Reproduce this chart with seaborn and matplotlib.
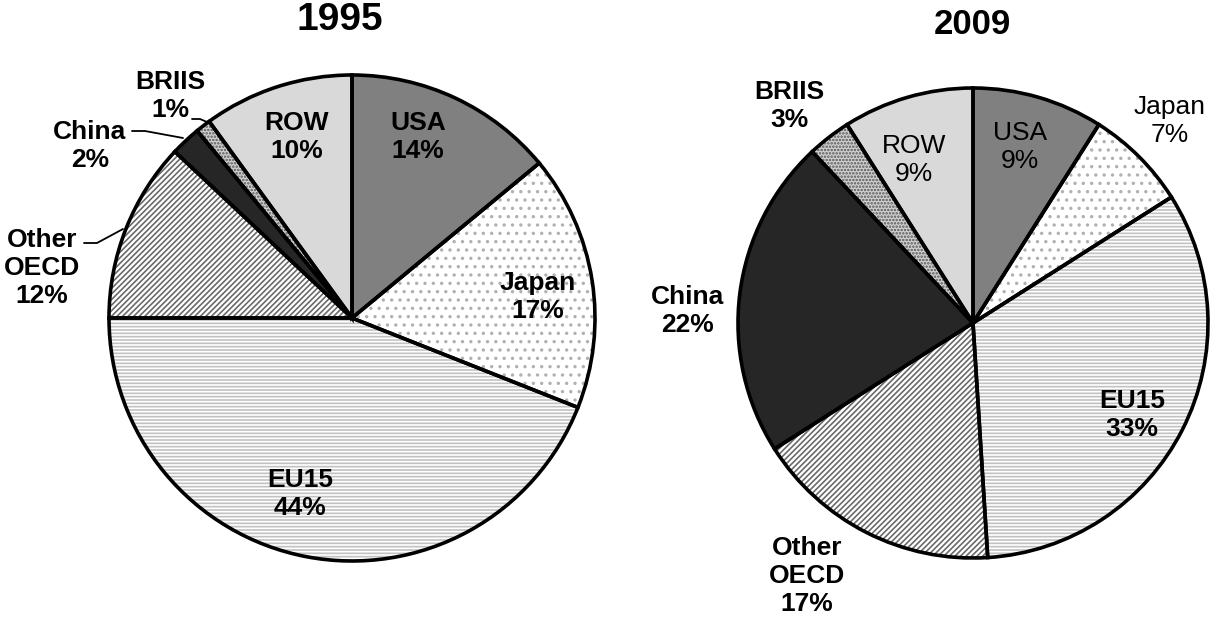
import matplotlib
matplotlib.use("Agg")
import matplotlib.pyplot as plt
import seaborn as sns

# shares of each region, clockwise from 12 o'clock
regions = ["USA", "Japan", "EU15", "Other OECD", "China", "BRIIS", "ROW"]
share_1995 = [14, 17, 44, 12, 2, 1, 10]
share_2009 = [9, 7, 33, 17, 22, 3, 9]

# fill colours, hatch colours and hatch patterns per region
face_cols = ["#808080", "#ffffff", "#c2c2c2", "#ffffff", "#262626", "#d0d0d0", "#d9d9d9"]
hatch_cols = ["#808080", "#b0b0b0", "#ffffff", "#6a6a6a", "#262626", "#555555", "#d9d9d9"]
hatches = ["", "..", "-----", "//////", "", ".....", ""]

sns.set_theme(style="white")
plt.rcParams["font.family"] = ["Liberation Sans", "DejaVu Sans"]
plt.rcParams["text.color"] = "black"
plt.rcParams["hatch.linewidth"] = 1.2

W, H = 1212, 618
fig = plt.figure(figsize=(W / 100, H / 100), dpi=100)
ax = fig.add_axes([0, 0, 1, 1])


def draw_pie(values, cx, cy, r):
    c = (cx, H - cy)
    wedges, _ = ax.pie(values, center=c, radius=r, startangle=90,
                       counterclock=False, colors=face_cols,
                       wedgeprops=dict(linewidth=0))
    for w, hc, ht in zip(wedges, hatch_cols, hatches):
        w.set_edgecolor(hc)
        w.set_hatch(ht)
    # black outlines on top
    ax.pie(values, center=c, radius=r, startangle=90, counterclock=False,
           wedgeprops=dict(fill=False, edgecolor="black", linewidth=2.6))


draw_pie(share_1995, 352, 318, 243)
draw_pie(share_2009, 973, 323, 235)

ax.set_xlim(0, W)
ax.set_ylim(0, H)
ax.set_aspect("equal")
ax.axis("off")


def label(txt, x, y, bold=True, size=19):
    ax.text(x, H - y, txt, ha="center", va="center", fontsize=size,
            fontweight="bold" if bold else "normal", linespacing=1.2,
            color="black")


# titles
ax.text(340, H - 20, "1995", ha="center", va="center", fontsize=28,
        fontweight="bold", color="black")
ax.text(972, H - 25, "2009", ha="center", va="center", fontsize=25,
        fontweight="bold", color="black")

# 1995 labels
label("USA\n14%", 418, 137)
label("Japan\n17%", 538, 297)
label("EU15\n44%", 300, 494)
label("ROW\n10%", 297, 137)
label("Other\nOECD\n12%", 42, 268)
label("China\n2%", 90, 146)
label("BRIIS\n1%", 170, 96)
# leader lines
ax.plot([84, 97, 123], [H - 243, H - 243, H - 229], color="black", lw=1.3)
ax.plot([132, 145, 183], [H - 131, H - 131, H - 138], color="black", lw=1.3)
ax.plot([192, 200, 207], [H - 119, H - 119, H - 122], color="black", lw=1.3)

# 2009 labels
label("USA\n9%", 1020, 147, bold=False)
label("Japan\n7%", 1170, 121, bold=False)
label("ROW\n9%", 914, 160, bold=False)
label("EU15\n33%", 1132, 415)
label("China\n22%", 688, 311)
label("BRIIS\n3%", 789, 106)
label("Other\nOECD\n17%", 807, 576)

fig.savefig("out.png", dpi=100)
